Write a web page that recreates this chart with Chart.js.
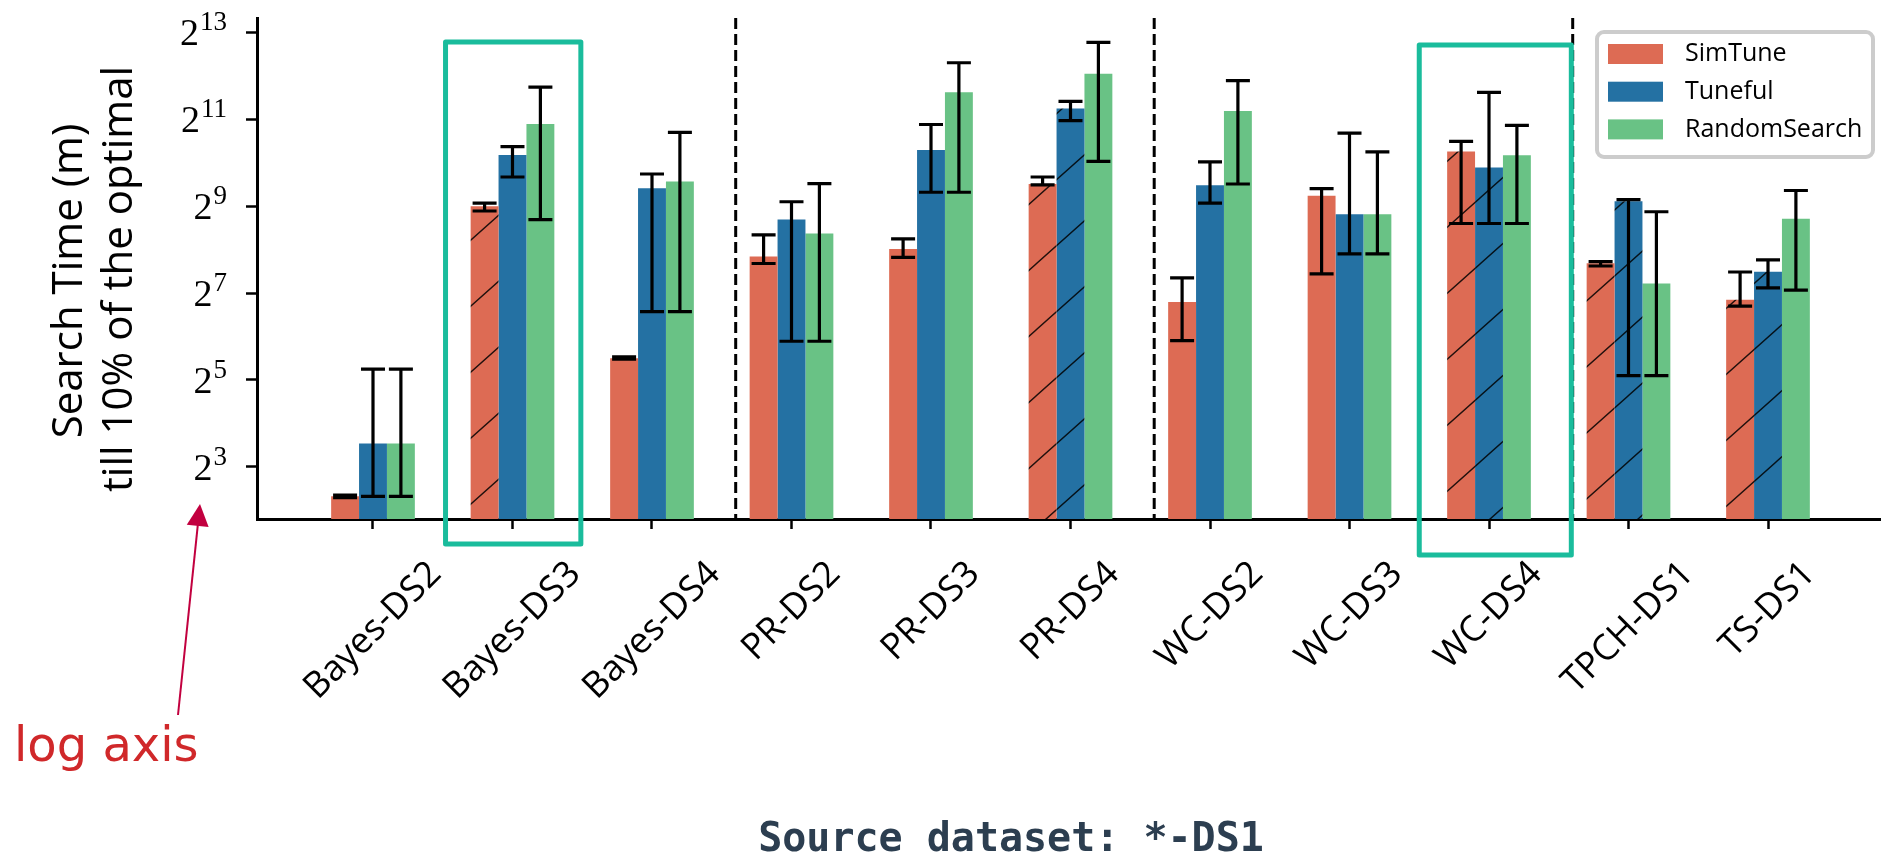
<!DOCTYPE html>
<html>
<head>
<meta charset="utf-8">
<script src="https://cdn.jsdelivr.net/npm/chart.js@4.4.1/dist/chart.umd.min.js"></script>
<style>
  html, body { margin: 0; padding: 0; background: #fff; }
  #wrap { width: 1881px; height: 858px; }
</style>
</head>
<body>
<div id="wrap"><canvas id="chart" width="1881" height="858"></canvas></div>
<script>
// x axis categories
const categories = ['Bayes-DS2', 'Bayes-DS3', 'Bayes-DS4', 'PR-DS2', 'PR-DS3', 'PR-DS4',
  'WC-DS2', 'WC-DS3', 'WC-DS4', 'TPCH-DS1', 'TS-DS1'];

// search time in minutes (plotted on a log2 axis)
const simTune     = [5.0, 512, 45.3, 229, 258, 729, 111, 605, 1226, 206, 115];
const simTuneLow  = [4.9, 474, 44.5, 205, 226, 719, 60, 174, 388, 197, 104];
const simTuneHigh = [5.1, 537, 46.2, 324, 304, 815, 163, 676, 1438, 211, 179];

const tuneful     = [11.6, 1160, 680, 413, 1252, 2435, 714, 449, 949, 553, 180];
const tunefulLow  = [5.0, 815, 95, 59.3, 639, 2006, 537, 239, 388, 34.3, 139];
const tunefulHigh = [38, 1323, 855, 549, 1884, 2721, 1038, 1641, 3147, 568, 217];

const randomSearch     = [11.6, 1897, 760, 331, 3147, 4239, 2336, 449, 1152, 149, 419];
const randomSearchLow  = [5.0, 413, 95, 59.3, 639, 1045, 729, 239, 388, 34.3, 134];
const randomSearchHigh = [38, 3420, 1663, 734, 5043, 6984, 3795, 1218, 1858, 468, 657];

// y ticks are 2^3 .. 2^13
const yTickExponents = [3, 5, 7, 9, 11, 13];

// dashed separators between workloads (x axis units)
const separators = [2.6, 5.6, 8.6];

// bars drawn with the "/" hatch
const hatchedSimTune = ['Bayes-DS3', 'PR-DS4', 'WC-DS4', 'TPCH-DS1', 'TS-DS1'];
const hatchedTuneful = ['PR-DS4', 'WC-DS4', 'TPCH-DS1', 'TS-DS1'];

const RED = '#dd6b54';
const BLUE = '#2471a3';
const GREEN = '#69c285';
const TEAL = '#1abc9c';
const SANS = '"Open Sans", Lato, sans-serif';
const SERIF = '"Liberation Serif", "DejaVu Serif", serif';

function hatchPattern(color) {
  const c = document.createElement('canvas');
  c.width = 74; c.height = 66;
  const g = c.getContext('2d');
  g.fillStyle = color;
  g.fillRect(0, 0, 74, 66);
  g.strokeStyle = 'rgba(0,0,0,0.85)';
  g.lineWidth = 1.4;
  g.beginPath();
  // line through (0,66)-(74,0) plus its neighbours so the tile joins up
  [-74, 0, 74].forEach(dx => {
    g.moveTo(dx - 74, 132);
    g.lineTo(dx + 148, -66);
  });
  g.stroke();
  return g.createPattern(c, 'repeat');
}
const redHatch = hatchPattern(RED);
const blueHatch = hatchPattern(BLUE);

const toPoints = arr => arr.map((v, i) => ({ x: i, y: v }));

const errors = [
  [simTuneLow, simTuneHigh],
  [tunefulLow, tunefulHigh],
  [randomSearchLow, randomSearchHigh]
];

// dashed separators behind the bars
const separatorPlugin = {
  id: 'separators',
  beforeDatasetsDraw(chart) {
    const { ctx, chartArea, scales } = chart;
    ctx.save();
    ctx.strokeStyle = '#000';
    ctx.lineWidth = 3;
    ctx.setLineDash([11, 5]);
    separators.forEach(s => {
      const px = scales.x.getPixelForValue(s);
      ctx.beginPath();
      ctx.moveTo(px, chartArea.top);
      ctx.lineTo(px, chartArea.bottom);
      ctx.stroke();
    });
    ctx.restore();
  }
};

// error bars with caps
const errorBarPlugin = {
  id: 'errorBars',
  afterDatasetsDraw(chart) {
    const { ctx, scales } = chart;
    ctx.save();
    ctx.strokeStyle = '#000';
    ctx.lineWidth = 3.2;
    chart.data.datasets.forEach((ds, di) => {
      const meta = chart.getDatasetMeta(di);
      const [lows, highs] = errors[di];
      meta.data.forEach((bar, i) => {
        const y1 = scales.y.getPixelForValue(lows[i]);
        const y2 = scales.y.getPixelForValue(highs[i]);
        const cap = 12;
        ctx.beginPath();
        ctx.moveTo(bar.x, y1); ctx.lineTo(bar.x, y2);
        ctx.moveTo(bar.x - cap, y1); ctx.lineTo(bar.x + cap, y1);
        ctx.moveTo(bar.x - cap, y2); ctx.lineTo(bar.x + cap, y2);
        ctx.stroke();
      });
    });
    ctx.restore();
  }
};

// labels, legend, highlight boxes and notes
const decorPlugin = {
  id: 'decor',
  afterDraw(chart) {
    const { ctx, chartArea, scales } = chart;
    const xs = scales.x, ys = scales.y;
    ctx.save();

    // y tick labels 2^n
    ctx.fillStyle = '#000';
    ctx.textAlign = 'right';
    ctx.textBaseline = 'alphabetic';
    const labelRight = chartArea.left - 30;
    yTickExponents.forEach(e => {
      const py = ys.getPixelForValue(Math.pow(2, e));
      ctx.font = '27px ' + SERIF;
      const exp = String(e);
      const expW = ctx.measureText(exp).width;
      ctx.fillText(exp, labelRight, py - 2);
      ctx.font = '38px ' + SERIF;
      ctx.fillText('2', labelRight - expW - 1, py + 13);
    });

    // y axis title (two lines)
    ctx.textAlign = 'center';
    ctx.font = '42px ' + SANS;
    ctx.save();
    ctx.translate(82, 281);
    ctx.rotate(-Math.PI / 2);
    ctx.fillText('Search Time (m)', 0, 0);
    ctx.restore();
    ctx.save();
    ctx.translate(132, 279);
    ctx.rotate(-Math.PI / 2);
    ctx.fillText('till 10% of the optimal', 0, 0);
    ctx.restore();

    // x tick labels, rotated 45 deg, centred on the tick
    ctx.font = '36px ' + SANS;
    ctx.textBaseline = 'middle';
    categories.forEach((c, i) => {
      const px = xs.getPixelForValue(i);
      const w = ctx.measureText(c).width;
      const half = (w + 32) * Math.SQRT1_2 / 2;
      ctx.save();
      ctx.translate(px, chartArea.bottom + 38 + half);
      ctx.rotate(-Math.PI / 4);
      ctx.fillText(c, 0, 0);
      ctx.restore();
    });

    // highlight boxes
    ctx.strokeStyle = TEAL;
    ctx.lineWidth = 5;
    ctx.lineJoin = 'round';
    [
      { cat: 'Bayes-DS3', l: -0.48, r: 0.49, top: 24, bottom: 25 },
      { cat: 'WC-DS4', l: -0.5, r: 0.59, top: 27, bottom: 36 }
    ].forEach(b => {
      const i = categories.indexOf(b.cat);
      const x1 = xs.getPixelForValue(i + b.l);
      const x2 = xs.getPixelForValue(i + b.r);
      ctx.strokeRect(x1, chartArea.top + b.top, x2 - x1, chartArea.bottom + b.bottom - chartArea.top - b.top);
    });

    // legend
    const lx = 1597, ly = 32, lw = 276, lh = 125;
    ctx.fillStyle = 'rgba(255,255,255,0.9)';
    ctx.strokeStyle = '#cccccc';
    ctx.lineWidth = 4;
    ctx.beginPath();
    ctx.roundRect(lx, ly, lw, lh, 7);
    ctx.fill();
    ctx.stroke();
    ctx.textAlign = 'left';
    ctx.textBaseline = 'middle';
    ctx.font = '25px ' + SANS;
    chart.data.datasets.forEach((ds, di) => {
      const sy = 44 + di * 37.7;
      ctx.fillStyle = ds.legendColor;
      ctx.fillRect(1608, sy, 55, 20);
      ctx.fillStyle = '#000';
      ctx.fillText(ds.label, 1685, sy + 10);
    });

    // "log axis" note with arrow
    const tipX = chartArea.left - 57, tipY = chartArea.bottom - 15;
    const tailX = tipX - 22, tailY = tipY + 211;
    const len = Math.hypot(tipX - tailX, tipY - tailY);
    const ux = (tipX - tailX) / len, uy = (tipY - tailY) / len;
    ctx.strokeStyle = '#c2003f';
    ctx.fillStyle = '#c2003f';
    ctx.lineWidth = 2;
    ctx.beginPath();
    ctx.moveTo(tailX, tailY);
    ctx.lineTo(tipX - ux * 18, tipY - uy * 18);
    ctx.stroke();
    ctx.beginPath();
    ctx.moveTo(tipX, tipY);
    ctx.lineTo(tipX - ux * 22 - uy * 11, tipY - uy * 22 + ux * 11);
    ctx.lineTo(tipX - ux * 22 + uy * 11, tipY - uy * 22 - ux * 11);
    ctx.closePath();
    ctx.fill();

    ctx.fillStyle = '#d0282a';
    ctx.font = '48px "DejaVu Sans", sans-serif';
    ctx.textAlign = 'left';
    ctx.textBaseline = 'alphabetic';
    ctx.fillText('log axis', 14, 761);

    // caption
    ctx.fillStyle = '#2c3e50';
    ctx.font = 'bold 40px "DejaVu Sans Mono", monospace';
    ctx.textAlign = 'center';
    ctx.fillText('Source dataset: *-DS1', 1011, 851);

    ctx.restore();
  }
};

new Chart(document.getElementById('chart'), {
  type: 'bar',
  data: {
    datasets: [
      {
        label: 'SimTune',
        data: toPoints(simTune),
        legendColor: RED,
        backgroundColor: c => hatchedSimTune.includes(categories[c.dataIndex]) ? redHatch : RED
      },
      {
        label: 'Tuneful',
        data: toPoints(tuneful),
        legendColor: BLUE,
        backgroundColor: c => hatchedTuneful.includes(categories[c.dataIndex]) ? blueHatch : BLUE
      },
      {
        label: 'RandomSearch',
        data: toPoints(randomSearch),
        legendColor: GREEN,
        backgroundColor: GREEN
      }
    ]
  },
  options: {
    responsive: false,
    animation: false,
    devicePixelRatio: 1,
    layout: { padding: { top: 18, left: 0, right: 0, bottom: 0 } },
    datasets: {
      bar: { categoryPercentage: 0.6, barPercentage: 1.0, borderWidth: 0 }
    },
    scales: {
      x: {
        type: 'linear',
        offset: false,
        min: -0.8315,
        max: 10.81,
        afterBuildTicks: s => { s.ticks = categories.map((_, i) => ({ value: i })); },
        afterFit: s => { s.height = 339; },
        ticks: { display: false },
        grid: { offset: false, drawOnChartArea: false, drawTicks: true, tickLength: 10, tickWidth: 2.5, tickColor: '#000', color: '#000' },
        border: { display: true, color: '#000', width: 3 }
      },
      y: {
        type: 'logarithmic',
        min: 3.48,
        max: 10300,
        afterBuildTicks: s => { s.ticks = yTickExponents.map(e => ({ value: Math.pow(2, e) })); },
        afterFit: s => { s.width = 257; },
        ticks: { display: false },
        grid: { drawOnChartArea: false, drawTicks: true, tickLength: 11, tickWidth: 2.5, tickColor: '#000', color: '#000' },
        border: { display: true, color: '#000', width: 3 }
      }
    },
    plugins: {
      legend: { display: false },
      tooltip: { enabled: false }
    }
  },
  plugins: [separatorPlugin, errorBarPlugin, decorPlugin]
});
</script>
</body>
</html>
